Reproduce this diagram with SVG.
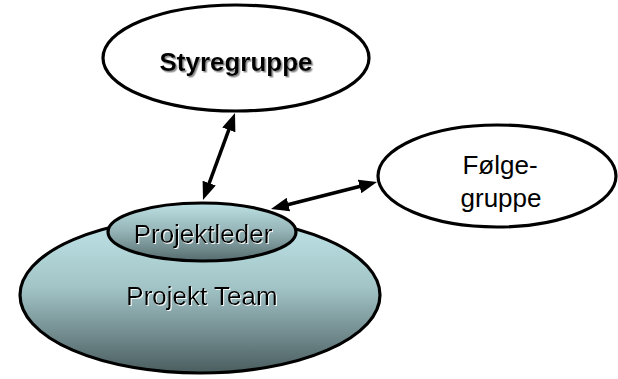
<svg xmlns="http://www.w3.org/2000/svg" width="618" height="379" viewBox="0 0 618 379">
  <style>
    .outline { stroke: #000; stroke-width: 3.2; }
    .plain { fill: #fff; }
    .label { font-family: "Liberation Sans", Arial, sans-serif; font-size: 26px; fill: #000; text-anchor: middle; }
    .bold { font-weight: bold; }
    .link { stroke: #000; stroke-width: 3.5; fill: none; marker-start: url(#head); marker-end: url(#head); }
  </style>
  <defs>
    <linearGradient id="teamFill" x1="0" y1="0" x2="0" y2="1">
      <stop offset="0" stop-color="#c0e5e8"/>
      <stop offset="0.45" stop-color="#a2c4c7"/>
      <stop offset="1" stop-color="#4a5d5f"/>
    </linearGradient>
    <linearGradient id="leaderFill" x1="0" y1="0" x2="0" y2="1">
      <stop offset="0" stop-color="#bde2e5"/>
      <stop offset="0.5" stop-color="#93b2b5"/>
      <stop offset="1" stop-color="#566c6e"/>
    </linearGradient>
    <filter id="greyShadow" x="-10%" y="-30%" width="120%" height="160%">
      <feDropShadow dx="1.5" dy="1.5" stdDeviation="0.6" flood-color="#808080" flood-opacity="0.9"/>
    </filter>
    <filter id="lightShadow" x="-10%" y="-30%" width="120%" height="160%">
      <feDropShadow dx="1" dy="1" stdDeviation="0.4" flood-color="#ffffff" flood-opacity="0.9"/>
    </filter>
    <marker id="head" viewBox="0 0 18 14" refX="9" refY="7" markerWidth="18" markerHeight="14" markerUnits="userSpaceOnUse" orient="auto-start-reverse">
      <path d="M0,0 L18,7 L0,14 z" fill="#000"/>
    </marker>
  </defs>

  <!-- team with its leader on top -->
  <g id="projekt-team">
    <ellipse class="outline" cx="200" cy="295" rx="180" ry="78" fill="url(#teamFill)"/>
    <text class="label" x="202" y="305" filter="url(#lightShadow)">Projekt Team</text>
  </g>

  <g id="projektleder">
    <ellipse class="outline" cx="202" cy="232" rx="94" ry="29" fill="url(#leaderFill)"/>
    <text class="label" x="203" y="243" filter="url(#lightShadow)">Projektleder</text>
  </g>

  <g id="styregruppe">
    <ellipse class="outline plain" cx="236" cy="58" rx="133" ry="53"/>
    <text class="label bold" x="236" y="71" filter="url(#greyShadow)">Styregruppe</text>
  </g>

  <g id="folgegruppe">
    <ellipse class="outline plain" cx="497" cy="176" rx="119" ry="51"/>
    <text class="label" x="500" y="174">Følge-</text>
    <text class="label" x="501" y="207">gruppe</text>
  </g>

  <!-- two-way links -->
  <g id="connectors">
    <line class="link" x1="231.9" y1="121.4" x2="206.1" y2="191.6"/>
    <line class="link" x1="368.3" y1="184.2" x2="279.7" y2="206.8"/>
  </g>
</svg>
